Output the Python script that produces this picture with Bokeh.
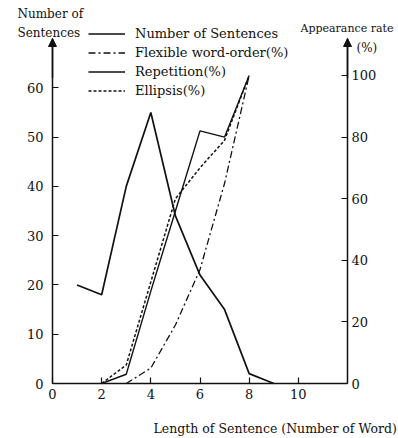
from bokeh.plotting import figure
from bokeh.models import (Range1d, LinearAxis, FixedTicker, Legend, LegendItem,
                          Label, Arrow, NormalHead)
from bokeh.embed import file_html
from bokeh.resources import INLINE

# ---- data ----
length = [1, 2, 3, 4, 5, 6, 7, 8, 9]
num_sentences = [20, 18, 40, 55, 34, 22, 15, 2, 0]

flex_x = [3, 4, 5, 6, 7, 8]
flex_pct = [0, 5, 19, 37, 65, 100]

rep_x = [2, 3, 4, 5, 6, 7, 8]
rep_pct = [0, 3, 30, 56, 82, 80, 100]

ell_x = [2, 3, 4, 5, 6, 7, 8]
ell_pct = [0, 6, 33, 60, 70, 79, 100]

x_ticks = [0, 2, 4, 6, 8, 10]
left_ticks = [0, 10, 20, 30, 40, 50, 60]
right_ticks = [0, 20, 40, 60, 80, 100]

series_labels = ["Number of Sentences", "Flexible word-order(%)",
                 "Repetition(%)", "Ellipsis(%)"]

FONT = "DejaVu Serif"
INK = "#111111"

# ---- layout: the frame fills the canvas; axes are drawn at fixed places ----
W, H = 398, 438
AX_L, AX_R, AX_B, AX_T = 52, 347, 383, 38      # pixel positions of the axes
X_MAX, Y_MAX, PCT_MAX = 12, 70, 112

px_x = (AX_R - AX_L) / X_MAX
px_y = (AX_B - AX_T) / Y_MAX
x0 = -AX_L / px_x
x1 = X_MAX + (W - AX_R) / px_x
y0 = -(H - AX_B) / px_y
y1 = Y_MAX + AX_T / px_y
k = PCT_MAX / Y_MAX

p = figure(width=W, height=H, output_backend="svg", toolbar_location=None,
           x_range=Range1d(x0, x1), y_range=Range1d(y0, y1),
           x_axis_location=None, y_axis_location=None,
           min_border=0, background_fill_color="white",
           border_fill_color="white")
p.outline_line_color = None
p.grid.visible = False
p.extra_y_ranges = {"pct": Range1d(y0 * k, y1 * k)}

xa = LinearAxis(ticker=FixedTicker(ticks=x_ticks), fixed_location=0,
                bounds=(0, X_MAX))
ya = LinearAxis(ticker=FixedTicker(ticks=left_ticks), fixed_location=0,
                bounds=(0, Y_MAX))
ra = LinearAxis(ticker=FixedTicker(ticks=right_ticks), y_range_name="pct",
                fixed_location=X_MAX, bounds=(0, PCT_MAX))
p.add_layout(xa, "below")
p.add_layout(ya, "left")
p.add_layout(ra, "right")

for ax in (xa, ya, ra):
    ax.axis_line_color = INK
    ax.axis_line_width = 1.5
    ax.major_tick_line_color = INK
    ax.major_tick_line_width = 1.2
    ax.major_tick_in = 6
    ax.major_tick_out = 0
    ax.minor_tick_line_color = None
    ax.major_label_text_font = FONT
    ax.major_label_text_font_size = "13px"
    ax.major_label_text_color = INK
ya.major_label_standoff = 9
ra.major_label_standoff = 4
xa.major_label_standoff = 5

r1 = p.line(length, num_sentences, line_color=INK, line_width=1.7)
r2 = p.line(flex_x, flex_pct, y_range_name="pct", line_color=INK,
            line_width=1.3, line_dash="7 3 2 3")
r3 = p.line(rep_x, rep_pct, y_range_name="pct", line_color=INK, line_width=1.4)
r4 = p.line(ell_x, ell_pct, y_range_name="pct", line_color=INK,
            line_width=1.5, line_dash="3 2")

legend = Legend(items=[LegendItem(label=lab, renderers=[r])
                       for lab, r in zip(series_labels, [r1, r2, r3, r4])],
                location=(88, H - 100), padding=0, margin=0, spacing=0,
                glyph_width=37, glyph_height=19, label_height=19,
                label_standoff=10, border_line_color=None,
                background_fill_alpha=0,
                label_text_font=FONT, label_text_font_size="13px",
                label_text_color=INK)
p.add_layout(legend)

# axis arrows
for xpos in (0, X_MAX):
    p.add_layout(Arrow(end=NormalHead(size=8, fill_color=INK, line_color=INK),
                       x_start=xpos, y_start=Y_MAX - 8, x_end=xpos, y_end=Y_MAX,
                       line_color=INK, line_width=1.5))

def txt(s, ix, iy, size):
    p.add_layout(Label(x=ix, y=H - iy, x_units="screen", y_units="screen",
                       text=s, text_font=FONT, text_font_size=size,
                       text_color=INK, text_align="left",
                       text_baseline="middle"))

txt("Number of", 17, 13, "12px")
txt("Sentences", 17, 32, "12px")
txt("Appearance rate", 300, 28, "11px")
txt("(%)", 356, 47, "12px")
txt("Length of Sentence (Number of Word)", 153, 428, "12.5px")

open("out.html", "w").write(file_html(p, INLINE))
